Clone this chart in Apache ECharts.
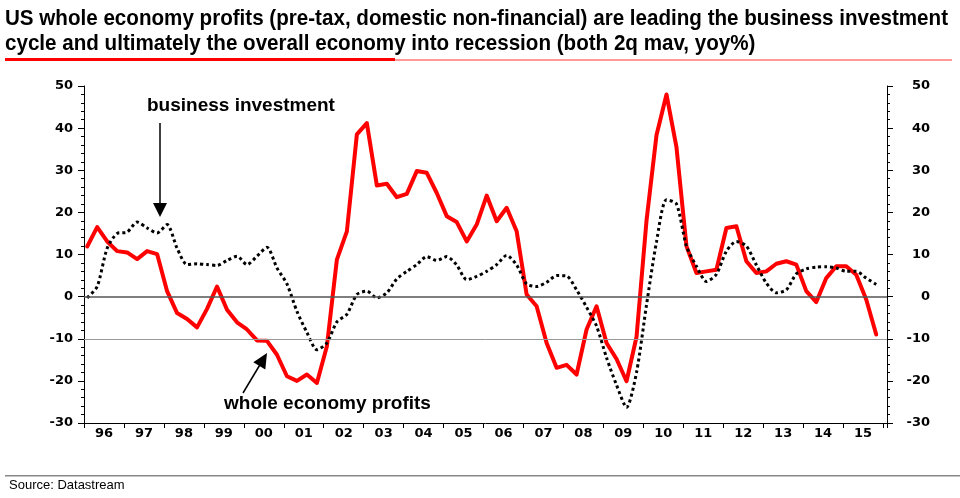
<!DOCTYPE html>
<html>
<head>
<meta charset="utf-8">
<script src="https://cdn.jsdelivr.net/npm/echarts@6/dist/echarts.min.js"></script>
<style>
html,body{margin:0;padding:0;background:#fff;}
#chart{width:960px;height:498px;}
</style>
</head>
<body>
<div id="chart"></div>
<script>
// ---- data (quarterly, 1996Q1 .. 2015Q4) ----
const quarters = [];
for (let y = 1996; y <= 2015; y++) { for (let q = 1; q <= 4; q++) quarters.push(y + 'Q' + q); }

const profits = [
  11.9, 16.5, 13.1, 10.8, 10.5, 8.9, 10.8, 10.1,
  1.3, -3.9, -5.3, -7.3, -2.9, 2.4, -3.1, -6.1,
  -7.8, -10.4, -10.5, -13.8, -18.9, -20.0, -18.5, -20.5,
  -11.8, 8.8, 15.5, 38.5, 41.2, 26.4, 26.8, 23.6,
  24.4, 29.8, 29.4, 24.6, 19.1, 17.7, 13.1, 17.1,
  24.0, 17.9, 21.1, 15.5, 0.5, -2.3, -11.0, -16.9,
  -16.2, -18.5, -7.8, -2.3, -11.0, -14.8, -20.1, -9.6,
  18.0, 38.3, 48.0, 35.5, 12.0, 5.6, 6.0, 6.4,
  16.3, 16.7, 8.4, 5.6, 6.0, 7.8, 8.4, 7.6,
  1.3, -1.3, 4.4, 7.2, 7.2, 5.2, -0.7, -9.0
];

const investment = [
  -0.3, 2.4, 11.5, 15.0, 15.3, 17.7, 16.3, 15.1,
  17.1, 11.5, 7.6, 7.8, 7.6, 7.4, 8.6, 9.6,
  7.6, 9.6, 11.7, 6.8, 3.0, -3.5, -8.5, -12.6,
  -11.0, -6.0, -4.2, 0.5, 1.3, -0.3, 0.9, 4.2,
  6.0, 7.6, 9.5, 8.6, 9.5, 7.5, 4.0, 4.8,
  6.0, 7.6, 9.8, 7.5, 3.0, 2.4, 3.4, 5.0,
  4.9, 1.6, -2.5, -7.0, -14.5, -21.0, -26.3, -18.0,
  -2.0, 13.0, 23.0, 22.0, 12.0, 7.2, 3.6, 5.3,
  10.8, 13.1, 12.0, 7.5, 3.2, 0.9, 1.6, 5.4,
  6.6, 7.0, 7.1, 6.8, 6.0, 6.0, 4.4, 2.9
];

const yearLabels = ['96','97','98','99','00','01','02','03','04','05','06','07','08','09','10','11','12','13','14','15'];
const yTicks = [-30, -20, -10, 0, 10, 20, 30, 40, 50];
const refLines = [0, -10];

const titleLines = [
  'US whole economy profits (pre-tax, domestic non-financial) are leading the business investment',
  'cycle and ultimately the overall economy into recession (both 2q mav, yoy%)'
];

// ---- helpers ----
function qToYear(q) {
  const y = parseInt(q.slice(0, 4), 10);
  const n = parseInt(q.slice(5), 10);
  return y + (n - 1) * 0.25 + 0.08;
}
const profitsData = quarters.map((q, i) => [qToYear(q), profits[i]]);
const investData = quarters.map((q, i) => [qToYear(q), investment[i]]);

const axisFont = { color: '#000', fontFamily: 'DejaVu Sans', fontWeight: 'bold', fontSize: 13 };

// condensed title: measure and squeeze horizontally to the reference width
const titleFont = 'bold 22px "Liberation Sans", Arial, sans-serif';
const mctx = document.createElement('canvas').getContext('2d');
mctx.font = titleFont;
const titleScale = 943 / mctx.measureText(titleLines[0]).width;

function yAxisCfg(pos) {
  return {
    type: 'value', position: pos,
    min: yTicks[0], max: yTicks[yTicks.length - 1], interval: 10,
    axisLine: { show: true, lineStyle: { color: '#000', width: 1 } },
    axisTick: { show: true, inside: false, length: 6, lineStyle: { color: '#000', width: 1 } },
    minorTick: { show: true, splitNumber: 5, length: 3, lineStyle: { color: '#000', width: 1 } },
    splitLine: { show: false },
    axisLabel: Object.assign({
      margin: pos === 'left' ? 11 : 43,
      align: 'right'
    }, axisFont)
  };
}

const chart = echarts.init(document.getElementById('chart'), null, { renderer: 'canvas' });

const option = {
  animation: false,
  backgroundColor: '#fff',
  grid: { left: 84, right: 73, top: 86, bottom: 75, containLabel: false },
  xAxis: [
    {
      type: 'value', min: 1996, max: 2016.1, interval: 1,
      axisLine: { show: true, onZero: false, lineStyle: { color: '#000', width: 1 } },
      axisTick: { show: true, length: 5, lineStyle: { color: '#000', width: 1 } },
      axisLabel: { show: false },
      splitLine: { show: false }
    },
    {
      type: 'value', position: 'bottom', min: 1996, max: 2016.1, interval: 0.5,
      axisLine: { show: false, onZero: false },
      axisTick: { show: false },
      splitLine: { show: false },
      axisLabel: Object.assign({
        margin: 4,
        showMinLabel: true, showMaxLabel: false,
        formatter: function (v) {
          const f = Math.round((v % 1) * 100) / 100;
          if (f === 0.5) {
            const idx = Math.floor(v) - 1996;
            return yearLabels[idx] || '';
          }
          return '';
        }
      }, axisFont)
    }
  ],
  yAxis: [yAxisCfg('left'), yAxisCfg('right')],
  series: [
    {
      name: 'ref', type: 'line', data: [], z: 1, silent: true,
      markLine: {
        silent: true, symbol: 'none', label: { show: false },
        data: [
          { yAxis: refLines[0], lineStyle: { color: '#555', width: 1.5, type: 'solid' } },
          { yAxis: refLines[1], lineStyle: { color: '#999', width: 1, type: 'solid' } }
        ]
      }
    },
    {
      name: 'whole economy profits', type: 'line', data: profitsData, z: 3,
      showSymbol: false, symbol: 'none', smooth: false,
      lineStyle: { color: '#ff0000', width: 4, join: 'round', cap: 'round' }
    },
    {
      name: 'business investment', type: 'line', data: investData, z: 4,
      showSymbol: false, symbol: 'none', smooth: 0.25,
      lineStyle: { color: '#000', width: 3, type: [3, 3], cap: 'butt' }
    }
  ],
  graphic: [
    { type: 'text', x: 5, y: 8, scaleX: titleScale, style: { text: titleLines[0], fill: '#000', font: titleFont, textVerticalAlign: 'top' } },
    { type: 'text', x: 5, y: 33, scaleX: titleScale, style: { text: titleLines[1], fill: '#000', font: titleFont, textVerticalAlign: 'top' } },
    { type: 'rect', shape: { x: 5, y: 58, width: 390, height: 3 }, style: { fill: '#ff0000' } },
    { type: 'rect', shape: { x: 395, y: 59.5, width: 557, height: 1 }, style: { fill: '#ff3333' } },
    { type: 'rect', shape: { x: 5, y: 475, width: 955, height: 1.5 }, style: { fill: '#888' } },
    { type: 'text', left: 9, top: 479, style: { text: 'Source: Datastream', fill: '#000', font: '13px "Liberation Sans", Arial' } },
    { type: 'text', left: 147, top: 96, style: { text: 'business investment', fill: '#000', font: 'bold 19px "Liberation Sans", Arial' } },
    { type: 'line', shape: { x1: 160, y1: 123, x2: 160, y2: 205 }, style: { stroke: '#000', lineWidth: 1.5 } },
    { type: 'polygon', shape: { points: [[153, 203], [167, 203], [160, 217]] }, style: { fill: '#000' } },
    { type: 'text', left: 224, top: 394, style: { text: 'whole economy profits', fill: '#000', font: 'bold 19px "Liberation Sans", Arial' } },
    { type: 'line', shape: { x1: 243, y1: 393, x2: 261, y2: 363 }, style: { stroke: '#000', lineWidth: 1.5 } },
    { type: 'polygon', shape: { points: [[267, 353], [265.3, 369.5], [253.3, 362.3]] }, style: { fill: '#000' } }
  ]
};
chart.setOption(option);
</script>
</body>
</html>
